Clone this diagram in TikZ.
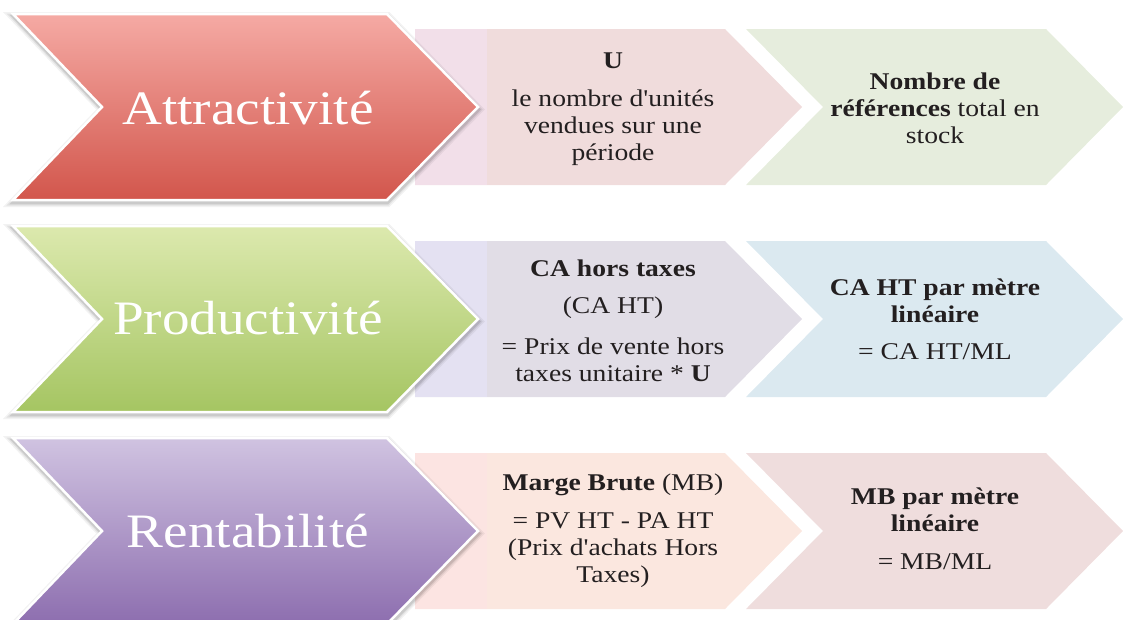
\documentclass[tikz,border=0pt]{standalone}
\usepackage{fontspec}
\setmainfont{Liberation Serif}[FakeStretch=1.15, Ligatures=TeXOff]
\definecolor{txtcol}{HTML}{231F20}
\definecolor{redtop}{HTML}{F5AAA4}
\definecolor{redbot}{HTML}{D2564C}
\definecolor{grntop}{HTML}{DCE9AE}
\definecolor{grnbot}{HTML}{A5C562}
\definecolor{purtop}{HTML}{D0C3E1}
\definecolor{purbot}{HTML}{8D6EAF}
\definecolor{stripA}{HTML}{F2DFE9}
\definecolor{mainA}{HTML}{F0DCDC}
\definecolor{thirdA}{HTML}{E6EDDD}
\definecolor{stripB}{HTML}{E4E1F2}
\definecolor{mainB}{HTML}{E1DDE6}
\definecolor{thirdB}{HTML}{DBE9F0}
\definecolor{stripC}{HTML}{FCE4E2}
\definecolor{mainC}{HTML}{FBE7DF}
\definecolor{thirdC}{HTML}{EFDDDD}
\tikzset{
  bigchev/.style={draw=white, line width=2.5pt, line join=miter},
  shadowline/.style={draw=black, line join=miter},
  bigtxt/.style={text=white, font=\fontsize{48}{50}\selectfont, inner sep=0pt},
  smalltxt/.style={text=txtcol, font=\fontsize{24}{27}\selectfont, align=center, inner sep=0pt},
}
\newcommand\bigchevpath{(13,0) -- (387,0) -- (478,93) -- (387,186) -- (13,186) -- (102,93) -- cycle}
\newcommand\chevrow[6]{%
  \begin{scope}[shift={(0,#1)}]
    \fill[#5] (415,15) -- (725,15) -- (802,93) -- (725,171) -- (415,171) -- cycle;
    \fill[#4] (415,15) rectangle (487,171);
    \fill[#6] (746,15) -- (1046,15) -- (1123,93) -- (1046,171) -- (746,171) -- (823,93) -- cycle;
    \begin{scope}[shift={(0.5,2.5)}]
      \draw[shadowline, opacity=0.05, line width=9pt] \bigchevpath;
      \draw[shadowline, opacity=0.07, line width=6pt] \bigchevpath;
      \draw[shadowline, opacity=0.10, line width=3.5pt] \bigchevpath;
    \end{scope}
    \path[bigchev, top color=#2, bottom color=#3] \bigchevpath;
  \end{scope}}
\begin{document}
\begin{tikzpicture}[x=1pt, y=-1pt]
\useasboundingbox (0,0) rectangle (1123,619);
\clip (0,0) rectangle (1123,619);
\chevrow{14}{redtop}{redbot}{stripA}{mainA}{thirdA}
\chevrow{226}{grntop}{grnbot}{stripB}{mainB}{thirdB}
\chevrow{438}{purtop}{purbot}{stripC}{mainC}{thirdC}

\node[bigtxt] (attr) at (248,108) {Attractivité};
\node[smalltxt] (u) at (613,109) {\textbf{U}\\[11pt] le nombre d'unités\\ vendues sur une\\ période};
\node[smalltxt] (nref) at (935,108) {\textbf{Nombre de}\\ \textbf{références} total en\\ stock};

\node[bigtxt] (prod) at (248,318) {Productivité};
\node[smalltxt] (caht) at (613,321) {\textbf{CA hors taxes}\\[10pt] (CA HT)\\[14pt] = Prix de vente hors\\ taxes unitaire * \textbf{U}};
\node[smalltxt] (caml) at (935,319) {\textbf{CA HT par mètre}\\ \textbf{linéaire}\\[10pt] = CA HT/ML};

\node[bigtxt] (rent) at (248,531) {Rentabilité};
\node[smalltxt] (mb) at (613,531) {\textbf{Marge Brute} (MB)\\[11pt] = PV HT - PA HT\\ (Prix d'achats Hors\\ Taxes)};
\node[smalltxt] (mbml) at (935,529) {\textbf{MB par mètre}\\ \textbf{linéaire}\\[11pt] = MB/ML};
\end{tikzpicture}
\end{document}
